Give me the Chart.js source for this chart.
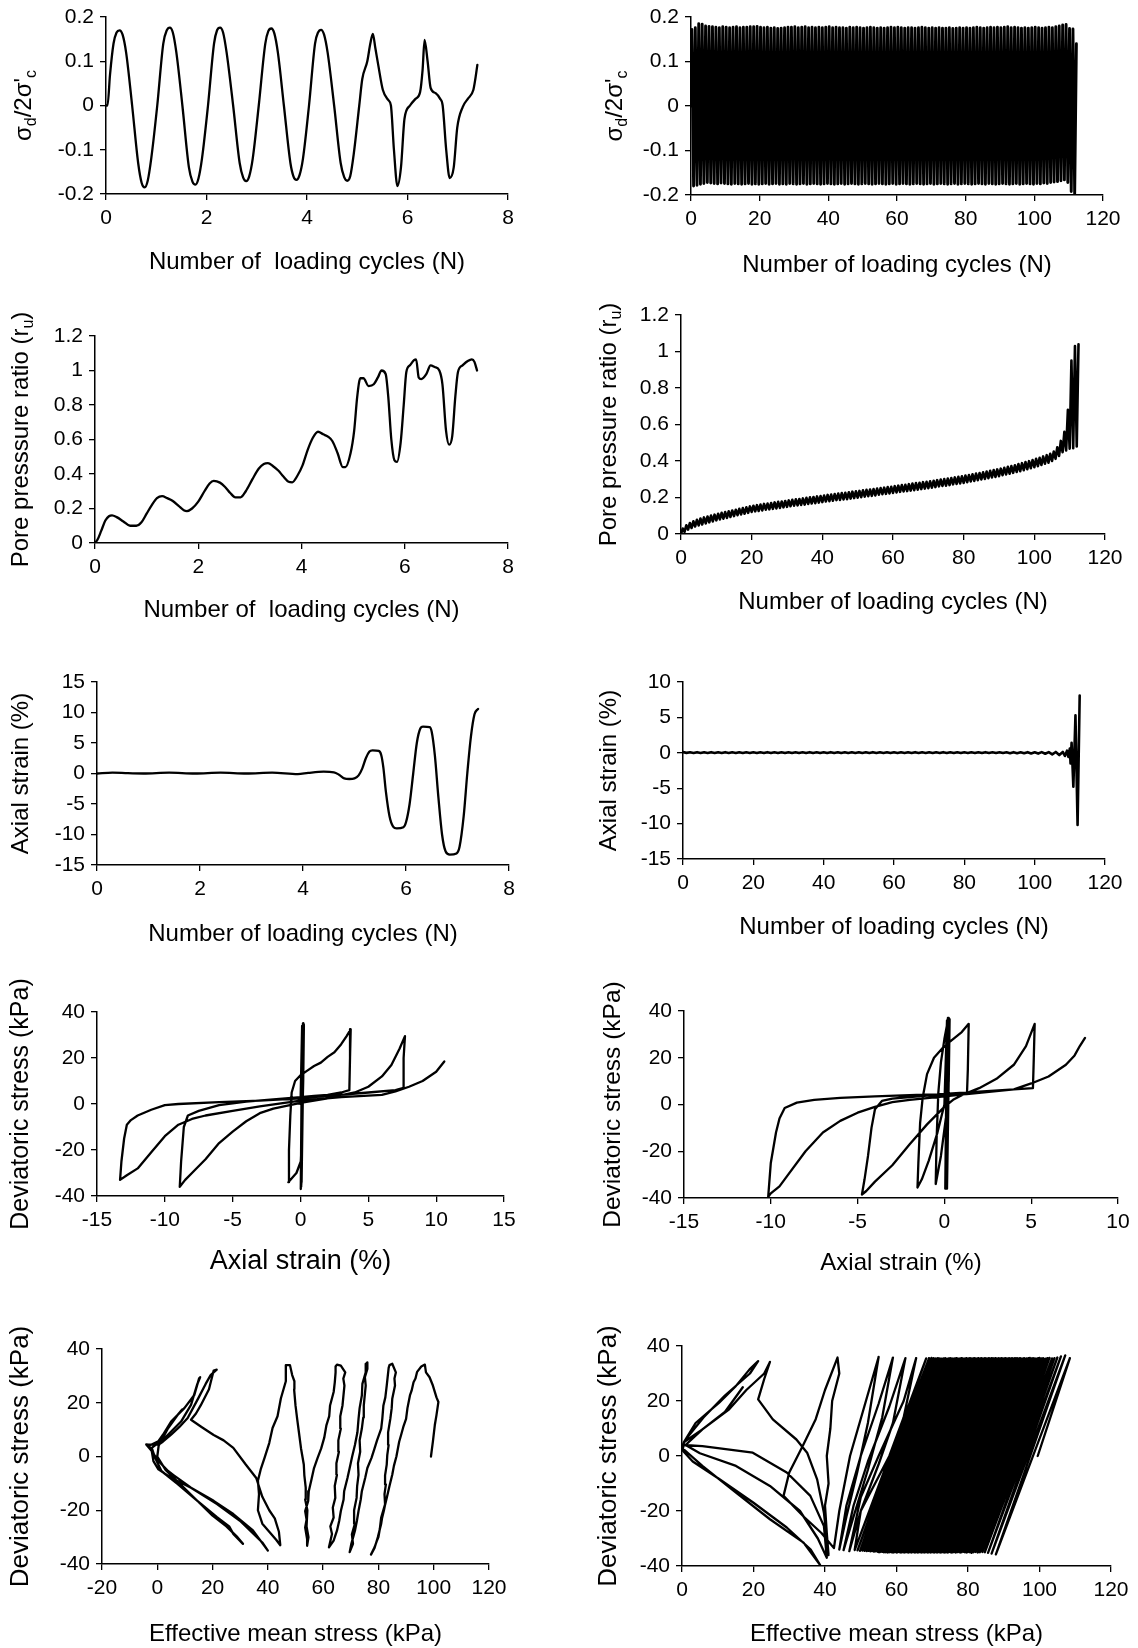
<!DOCTYPE html>
<html lang="en">
<head>
<meta charset="utf-8">
<title>Ensaios triaxiais cíclicos</title>
<script src="https://cdn.jsdelivr.net/npm/chart.js@4.4.1/dist/chart.umd.min.js"></script>
<style>
  html, body { margin: 0; padding: 0; background: #fff; }
  body { position: relative; width: 1138px; height: 1648px; overflow: hidden; }
  canvas { position: absolute; }
</style>
</head>
<body>
<script>
/* ============================================================
   Dois ensaios triaxiais cíclicos lado a lado:
   coluna esquerda = amostra que liquefaz em ~7 ciclos,
   coluna direita  = amostra que resiste ~112 ciclos.
   ============================================================ */

/* ---------- Coluna esquerda: pares [N, valor] ---------- */
const SIGMA_A = [
  [0,0],[0.03,0],[0.08,0.07],[0.15,0.14],[0.21,0.165],[0.27,0.17],[0.33,0.16],[0.4,0.12],[0.52,0],[0.64,-0.13],
  [0.71,-0.175],[0.77,-0.185],[0.83,-0.17],[0.9,-0.12],[1.02,0],[1.14,0.14],[1.21,0.17],[1.27,0.176],[1.33,0.165],[1.4,0.12],
  [1.52,0],[1.65,-0.14],[1.72,-0.172],[1.78,-0.179],[1.84,-0.165],[1.91,-0.12],[2.03,0],[2.15,0.14],[2.21,0.17],[2.27,0.176],
  [2.33,0.165],[2.4,0.12],[2.53,0],[2.66,-0.13],[2.73,-0.163],[2.79,-0.171],[2.85,-0.16],[2.92,-0.12],[3.04,0],[3.17,0.14],
  [3.23,0.168],[3.29,0.174],[3.35,0.163],[3.42,0.12],[3.54,0],[3.67,-0.13],[3.73,-0.16],[3.79,-0.168],[3.85,-0.158],[3.92,-0.12],
  [4.04,0],[4.16,0.14],[4.22,0.165],[4.28,0.171],[4.34,0.16],[4.41,0.12],[4.54,0],[4.67,-0.13],[4.74,-0.162],[4.8,-0.17],
  [4.86,-0.16],[4.93,-0.11],[5.04,0],[5.1,0.06],[5.2,0.1],[5.26,0.14],[5.31,0.162],[5.36,0.13],[5.42,0.09],[5.51,0.035],
  [5.62,0.012],[5.67,0],[5.73,-0.1],[5.8,-0.182],[5.87,-0.14],[5.94,-0.03],[6.05,0],[6.16,0.015],[6.25,0.03],[6.3,0.08],
  [6.34,0.148],[6.4,0.1],[6.46,0.04],[6.56,0.028],[6.65,0.015],[6.7,0],[6.77,-0.1],[6.84,-0.164],[6.92,-0.14],[6.99,-0.05],
  [7.1,-0.003],[7.2,0.015],[7.31,0.035],[7.35,0.06],[7.39,0.092]
];

const RU_A = [
  [0,0],[0.05,0.02],[0.12,0.07],[0.2,0.13],[0.27,0.155],[0.33,0.16],[0.42,0.15],[0.55,0.125],[0.68,0.1],[0.8,0.1],
  [0.9,0.12],[1.0,0.17],[1.1,0.22],[1.2,0.26],[1.3,0.272],[1.4,0.26],[1.5,0.245],[1.62,0.215],[1.72,0.19],[1.78,0.185],
  [1.88,0.2],[2.0,0.24],[2.12,0.3],[2.22,0.345],[2.3,0.36],[2.42,0.35],[2.52,0.325],[2.62,0.29],[2.72,0.265],[2.82,0.265],
  [2.92,0.3],[3.05,0.37],[3.17,0.43],[3.27,0.458],[3.35,0.463],[3.45,0.445],[3.55,0.42],[3.65,0.385],[3.75,0.355],[3.82,0.352],
  [3.92,0.39],[4.02,0.45],[4.12,0.54],[4.22,0.61],[4.32,0.645],[4.42,0.63],[4.52,0.615],[4.6,0.59],[4.7,0.52],[4.8,0.44],
  [4.85,0.44],[4.95,0.52],[5.02,0.65],[5.08,0.85],[5.14,0.955],[5.2,0.955],[5.3,0.91],[5.4,0.92],[5.48,0.96],[5.55,1.0],
  [5.63,0.98],[5.68,0.85],[5.74,0.6],[5.8,0.48],[5.85,0.47],[5.92,0.58],[5.98,0.8],[6.03,0.99],[6.1,1.03],[6.18,1.06],
  [6.22,1.065],[6.27,0.96],[6.32,0.95],[6.42,0.98],[6.5,1.03],[6.58,1.02],[6.67,1.0],[6.73,0.92],[6.8,0.65],[6.86,0.57],
  [6.92,0.62],[6.98,0.85],[7.03,0.99],[7.12,1.03],[7.22,1.055],[7.3,1.065],[7.35,1.05],[7.4,1.0]
];

const EPS_A = [
  [0,0],[0.3,0.15],[0.6,0.05],[0.9,0],[1.4,0.15],[1.9,0],[2.4,0.15],[2.9,0],[3.4,0.15],[3.9,-0.1],
  [4.1,0.1],[4.4,0.3],[4.6,0.2],[4.7,-0.2],[4.8,-0.8],[4.9,-0.9],[5.0,-0.8],[5.08,-0.3],[5.15,0.8],[5.22,2.5],
  [5.29,3.6],[5.35,3.8],[5.47,3.7],[5.52,3.0],[5.56,1.0],[5.61,-3],[5.68,-7],[5.75,-8.7],[5.82,-9.0],[5.95,-8.8],
  [6.0,-8.0],[6.07,-5],[6.14,0],[6.21,5],[6.28,7.4],[6.33,7.7],[6.46,7.6],[6.5,6.8],[6.56,3],[6.63,-4],
  [6.7,-10],[6.77,-12.8],[6.85,-13.3],[6.98,-13.1],[7.04,-12.0],[7.12,-7],[7.19,0],[7.26,6],[7.33,9.7],[7.4,10.6]
];

// pares [deformação axial %, tensão desviadora kPa]
const Q_EPS_A = [
  [0,0],[0.12,34],[0.02,-37],[0.18,35],[0.05,-36],[0.2,35],[0.06,-35],[0.22,35],[0.08,-34],[0.25,34.5],
  [0.2,10],[0.1,-15],[0.02,-25],[-0.3,-30],[-0.9,-34],
  [-0.85,-20],[-0.75,-5],[-0.65,5],[-0.4,10],[0,12.5],[0.5,14.5],[1,16.5],[1.5,18],[2,20.5],[2.5,22.5],[3,26],[3.4,29.5],[3.7,32.5],
  [3.65,20],[3.6,6],[3,5],[2,4],[1,3.5],[0,3],[-2,2],[-4,1],[-6,-0.5],[-7.5,-3],[-8.3,-5],[-8.6,-10],[-8.8,-25],[-8.9,-36],
  [-8.5,-33],[-8,-30],[-7,-24],[-6,-17],[-5,-12],[-4,-7.5],[-3,-4],[-2,-2],[0,0.5],[2,2.5],[4,5],[5,7.5],[6,12],[6.7,17],[7.3,24],[7.7,29.5],
  [7.6,20],[7.6,7],[7,6],[5,5],[2,3.5],[0,2.5],[-3,1.5],[-6,0.8],[-9,0],[-10,-0.5],[-11,-2.5],[-12,-5],[-12.5,-7],[-12.8,-9],[-13,-15],[-13.2,-25],[-13.3,-33],
  [-12.8,-31],[-12,-28],[-11,-21],[-10,-14],[-9,-9],[-8,-6.5],[-7,-5],[-5,-3],[-3,-1],[0,1.5],[3,3],[6,4],[7,5.5],[8,7.5],[9,10],[10,14],[10.6,18.5]
];

// pares [p' kPa, q kPa]; trechos quase verticais com as ondulações da figura
const Q_P_A = [
  [99,0],[99.7,5.5],[100.4,11.7],[101,15.4],[101.7,20.3],[101,22],[99.7,26.4],[98.5,29.5],[97.2,31.3],[96.8,34.2],[95.5,33.5],
  [94,31.5],[93.4,29],[92.7,27.6],[92,24.5],[91.4,22.7],[90.5,18],[90,14],[89,11],[88.2,8],[87.5,5.5],[86.5,0],[85.6,-3.5],[85,-6.8],[84,-11],[83,-15.4],[82.4,-18],[82,-20],[81.3,-23],[81,-25],[79.8,-30],[79.2,-32],[78.6,-34],[77.3,-36.5],
  [78.6,-33.8],[79.4,-31.5],[80,-30],[80.5,-27],[81,-22.7],[82.4,-17.8],[82.2,-14],[82.7,-10.4],[82.4,-7],[83,-3],[83.2,0.5],[83.7,4.3],[83.5,9],[84.3,14],[84.8,18],[85,21.5],[86,26.4],[85.8,29],[86.3,31.3],[85,34.5],[84,34],
  [83.7,33],[83,26.4],[82.5,22],[81.8,19],[81.4,14],[81,10.4],[79.5,6],[78.6,3],[77.5,-0.5],[76,-4.3],[75.2,-8],[74,-12.9],[73.6,-16],[72.8,-20.3],[72.2,-24],[71.5,-27.6],[70.2,-32.5],[69.6,-35.6],
  [70.8,-32.5],[70.4,-29],[71.5,-25],[71.2,-20],[72.1,-15.4],[72.3,-11],[72.8,-6.8],[72.6,-2.5],[73.4,1.8],[73.2,6],[74,10.4],[74.5,14.5],[74.7,19],[75.4,26.4],[75.1,29.5],[76,32.6],[76,35],[75.5,34.5],
  [75.4,31.3],[74.2,27],[74,22.7],[73.2,18],[72.8,14],[72.4,9],[71.5,4.3],[70.5,0],[69.6,-4.3],[68.8,-8],[67.6,-12.9],[67.4,-16],[66.4,-20.3],[65.8,-24],[65,-27.6],[63.8,-31.3],[62.1,-33.8],
  [63.2,-28.8],[62.6,-26],[63.8,-22.7],[63.5,-19],[64.4,-15.4],[64.2,-11],[65,-6.8],[64.8,-2.5],[65.7,1.8],[65.5,6],[66.4,10.4],[66.2,15],[67,19],[67.7,26.4],[67.3,29],[68,31.3],[66.4,33.8],[65,34.2],[64.5,33.5],
  [64.5,31.3],[64.2,27.5],[63.8,24],[62.5,19],[62.2,15],[61.2,11.7],[60.4,7],[59.3,3],[58,-0.5],[56.7,-4.3],[55.8,-8.5],[54.8,-12.9],[54.6,-16.5],[53.5,-20.3],[54,-23.5],[53.5,-26.4],[54.2,-30.7],[54.2,-33.2],
  [54.7,-30],[54,-26],[54.3,-20],[53.5,-16],[53.7,-11.6],[53.2,-7],[53,-3],[52,3],[51.2,9.3],[50.6,14],[50,19],[49.5,25],[49.6,28],[48.8,30.3],[48,34],[46.5,34],
  [46.5,28],[44.7,21.6],[43.5,15],[41.7,10.6],[40.5,5],[38.8,-0.5],[37.5,-4.5],[36.4,-9],[36.8,-14],[36.4,-20],[38,-25],[40.5,-28],[43,-31],[44.5,-33],
  [44,-28],[42.5,-23],[40.5,-20],[38,-15],[35.8,-8],[32,-3],[27.5,3.2],[24,6],[20.4,8],[16,11],[12.2,13.7],[14,16],[15.7,19],[18.7,25],[20.4,32],[21.5,32.3],
  [19.3,30.3],[17.5,27],[15,22],[11,14.3],[8,11],[5,8.1],[2,5.5],[0.4,4.4],[-3.2,4.4],[-4,4.5],
  [-2,2],[-1.4,-1.7],[0.4,-4.8],[5,-7.9],[12.2,-11.6],[20.4,-16.5],[27.5,-21.4],[34.6,-27.5],[38.2,-32.5],[40,-35],
  [38,-32],[34,-28],[29.9,-23.9],[21.6,-17.7],[12.2,-11.6],[6,-7],[3.9,-5.4],[0.4,-1.7],[-2,2],[-3,4],
  [0.4,5.7],[2,8],[5,13],[9.8,18],[13.4,22.9],[15.1,29],[15.5,29.5],
  [14.5,27],[12.2,19.2],[8.6,13],[2.7,6.9],[-2,3.2],[-0.8,-0.5],[1.5,-5.4],[7.4,-10.3],[14.5,-16.5],[21.6,-22.6],[26,-26],[27.5,-28.8],[31,-32.5],
  [29,-30],[25,-26],[20,-22],[14,-16],[8,-10],[3,-5],[0,0],[0.5,4],[3.9,10.5],[7.4,15.5],[9,17.5]
];

/* ---------- Coluna direita: ~112 ciclos ---------- */
// σd/2σ'c: um pico e um vale por ciclo
const PICO_B = [
  .172,.176,.185,.184,.180,.179,.178,.177,.176,.178,
  .177,.176,.177,.178,.176,.177,.177,.178,.178,.179,
  .177,.176,.177,.175,.176,.174,.175,.176,.177,.177,
  .178,.176,.177,.178,.176,.177,.176,.177,.176,.177,
  .178,.176,.177,.176,.176,.175,.177,.176,.177,.176,
  .175,.176,.177,.176,.175,.176,.175,.176,.177,.176,
  .177,.176,.175,.176,.176,.175,.176,.177,.176,.175,
  .176,.175,.176,.175,.175,.176,.174,.175,.176,.175,
  .176,.175,.176,.177,.176,.175,.176,.177,.176,.177,
  .176,.177,.178,.176,.177,.176,.175,.176,.175,.176,
  .177,.176,.175,.176,.177,.176,.178,.180,.182,.183,
  .174,.173,.140
];
const VALE_B = [
  -.180,-.178,-.176,-.174,-.172,-.173,-.174,-.175,-.173,-.174,
  -.175,-.176,-.174,-.175,-.176,-.175,-.174,-.176,-.175,-.176,
  -.175,-.174,-.176,-.175,-.174,-.176,-.175,-.176,-.174,-.175,
  -.176,-.175,-.174,-.176,-.175,-.174,-.175,-.176,-.175,-.174,
  -.175,-.176,-.175,-.174,-.176,-.175,-.174,-.175,-.176,-.175,
  -.174,-.175,-.176,-.175,-.174,-.175,-.176,-.175,-.174,-.176,
  -.175,-.174,-.175,-.176,-.175,-.174,-.175,-.176,-.175,-.174,
  -.176,-.175,-.174,-.175,-.176,-.175,-.174,-.176,-.175,-.174,
  -.175,-.176,-.175,-.174,-.175,-.176,-.174,-.175,-.176,-.175,
  -.174,-.175,-.176,-.175,-.174,-.176,-.175,-.174,-.175,-.176,
  -.174,-.175,-.173,-.174,-.172,-.171,-.170,-.168,-.166,-.172,
  -.192,-.197
];

// r_u: mínimo (em N inteiro) e máximo (em N + 0,5) de cada ciclo
const RU_VALE_B = [
  0,.012,.024,.033,.041,.047,.052,.058,.064,.069,
  .075,.080,.084,.088,.093,.098,.103,.107,.111,.116,
  .121,.124,.126,.129,.133,.135,.138,.140,.143,.146,
  .149,.152,.155,.157,.159,.161,.165,.167,.169,.172,
  .175,.178,.180,.182,.186,.187,.189,.191,.194,.197,
  .199,.202,.205,.207,.209,.211,.215,.218,.220,.222,
  .225,.228,.231,.233,.235,.238,.240,.243,.246,.249,
  .251,.254,.257,.261,.263,.265,.268,.272,.274,.277,
  .280,.284,.288,.291,.295,.299,.302,.306,.310,.313,
  .317,.322,.326,.330,.335,.340,.344,.350,.355,.361,
  .366,.372,.378,.385,.391,.400,.412,.428,.448,.458,
  .468,.470,.480
];
const RU_PICO_B = [
  .030,.048,.060,.070,.078,.085,.091,.096,.101,.106,
  .111,.116,.120,.124,.129,.133,.138,.142,.146,.151,
  .155,.158,.161,.165,.167,.170,.173,.176,.178,.181,
  .184,.187,.190,.192,.195,.198,.201,.203,.206,.208,
  .211,.214,.216,.219,.222,.224,.226,.229,.232,.234,
  .236,.239,.242,.244,.246,.249,.252,.254,.257,.259,
  .262,.265,.268,.270,.273,.276,.279,.281,.284,.286,
  .289,.292,.295,.298,.301,.304,.307,.310,.313,.316,
  .320,.323,.327,.331,.334,.338,.342,.346,.350,.354,
  .358,.363,.368,.372,.377,.383,.388,.394,.399,.405,
  .412,.418,.425,.432,.440,.452,.475,.510,.560,.680,
  .950,1.030,1.040
];

// deformação axial: trecho quase plano (um valor por ciclo) e ruptura final
const EPS_PLANO_B = [
  .10,-.01,.08,-.03,.09,-.02,.08,-.03,.09,-.03,
  .08,-.03,.09,-.02,.08,-.03,.08,-.03,.08,-.02,
  .08,-.03,.08,-.03,.09,-.02,.08,-.03,.08,-.03,
  .08,-.02,.08,-.03,.08,-.03,.09,-.02,.08,-.03,
  .08,-.03,.09,-.02,.08,-.03,.08,-.03,.08,-.03,
  .08,-.02,.08,-.03,.09,-.03,.08,-.02,.08,-.03,
  .08,-.03,.08,-.02,.08,-.03,.09,-.03,.08,-.02,
  .08,-.03,.08,-.03,.09,-.02,.08,-.03,.08,-.03,
  .08,-.02,.08,-.03,.08,-.03,.09,-.02,.08,-.03,
  .08,-.03,.08,-.05,.09,-.05,.08,-.07,.09,-.09,
  .08,-.11,.09,-.14,.10,-.22,.12,-.32,.12
];
const EPS_FINAL_B = [
  [108.6,-0.45],[109.2,0.3],[109.6,-0.6],[110.0,0.6],[110.2,-1.5],[110.5,1.4],[111.0,-4.8],[111.6,5.3],[112.2,-10.2],[112.8,8.1]
];

const Q_EPS_B = [
  [0,0],[0.15,36],[0.05,-36],[0.2,37],[0.08,-35],[0.22,36],[0.1,-36],[0.25,37],[0.12,-35],[0.28,36],[0.15,-36],[0.3,36.5],
  [0.25,10],[0.1,-5],[-0.2,-22],[-0.5,-34],
  [-0.45,-15],[-0.35,5],[-0.2,18],[0,28],[0.2,36],
  [0.15,15],[0,0],[-0.4,-12],[-0.9,-24],[-1.3,-32],[-1.55,-35.5],
  [-1.5,-25],[-1.4,-8],[-1.25,3],[-1.0,13],[-0.6,20],[0,25],[0.5,28],[1.0,31],[1.4,34.5],
  [1.35,15],[1.3,4.5],[0.5,4.2],[-1,3.8],[-2,3.2],[-3,2.5],[-3.6,1.5],[-4,-2],[-4.2,-10],[-4.4,-22],[-4.6,-32],[-4.75,-38.5],
  [-4.5,-37],[-4,-33],[-3,-26],[-2,-17],[-1,-8.5],[0,-1],[0.5,2],[1,4],[2,7],[3,11],[4,17],[4.7,25],[5.2,34.5],
  [5.15,20],[5.1,7],[4,6.5],[2,5.5],[0,4.5],[-2,4],[-4,3.5],[-6,2.8],[-7.5,2],[-8.5,0.8],[-9.2,-1.5],[-9.5,-6],[-9.7,-12],[-10,-25],[-10.15,-39.5],
  [-10,-38],[-9.5,-35],[-9,-30],[-8,-20],[-7,-12],[-6,-7],[-5,-3.5],[-4,-1],[-3,1],[-2,2],[0,3.5],[2,5],[4,6.5],[5,9],[6,12],[7,17],[7.5,21],[7.8,25],[8.1,28.5]
];

// trajetória p'-q: p' e q em cada pico e vale dos ciclos 0..104
const P_TOPO_B = [
  108.5,107.2,106.0,105.0,104.2,103.5,102.8,102.2,101.6,101.0,
  100.5,100.0,99.6,99.1,98.7,98.2,97.8,97.3,96.9,96.4,
  96.0,95.7,95.4,95.1,94.8,94.5,94.2,93.9,93.7,93.4,
  93.1,92.8,92.5,92.3,92.0,91.7,91.5,91.2,90.9,90.7,
  90.4,90.1,89.9,89.6,89.4,89.1,88.9,88.6,88.4,88.1,
  87.9,87.6,87.4,87.1,86.9,86.6,86.3,86.1,85.8,85.6,
  85.3,85.0,84.7,84.5,84.2,83.9,83.7,83.4,83.1,82.9,
  82.6,82.3,82.0,81.7,81.4,81.1,80.8,80.5,80.2,79.9,
  79.6,79.2,78.9,78.5,78.2,77.8,77.4,77.0,76.7,76.3,
  75.9,75.5,75.0,74.6,74.1,73.6,73.1,72.6,72.1,71.6,
  71.0,70.4,69.8,69.1,68.3
];
const Q_TOPO_B = [
  35.6,36.6,36.2,35.8,35.6,35.5,35.7,35.6,35.4,35.6,
  35.5,35.7,35.6,35.4,35.5,35.6,35.5,35.7,35.6,35.5,
  35.4,35.6,35.5,35.3,35.5,35.6,35.4,35.5,35.6,35.5,
  35.6,35.4,35.5,35.6,35.5,35.4,35.6,35.5,35.4,35.5,
  35.6,35.5,35.4,35.5,35.6,35.5,35.4,35.6,35.5,35.4,
  35.5,35.6,35.4,35.5,35.5,35.6,35.4,35.5,35.6,35.5,
  35.4,35.5,35.6,35.5,35.4,35.5,35.6,35.5,35.4,35.6,
  35.5,35.4,35.5,35.6,35.5,35.4,35.5,35.6,35.5,35.4,
  35.6,35.5,35.4,35.5,35.6,35.5,35.4,35.5,35.6,35.5,
  35.4,35.5,35.6,35.5,35.4,35.6,35.5,35.4,35.5,35.6,
  35.5,35.6,35.7,35.6,35.5
];
const P_BASE_B = [
  87.8,86.6,85.6,84.7,84.0,83.3,82.7,82.1,81.5,81.0,
  80.5,80.0,79.6,79.1,78.7,78.2,77.8,77.4,76.9,76.5,
  76.0,75.7,75.4,75.1,74.8,74.5,74.2,73.9,73.7,73.4,
  73.1,72.8,72.6,72.3,72.0,71.8,71.5,71.3,71.0,70.7,
  70.5,70.2,70.0,69.7,69.5,69.2,69.0,68.7,68.5,68.2,
  68.0,67.7,67.5,67.2,67.0,66.7,66.4,66.2,65.9,65.7,
  65.4,65.1,64.9,64.6,64.3,64.1,63.8,63.5,63.3,63.0,
  62.7,62.4,62.1,61.8,61.5,61.2,60.9,60.6,60.3,60.0,
  59.7,59.3,59.0,58.6,58.2,57.9,57.5,57.1,56.8,56.4,
  56.0,55.6,55.1,54.7,54.2,53.7,53.2,52.7,52.2,51.7,
  51.1,50.5,49.8,49.1,48.3
];
const Q_BASE_B = [
  -35.8,-35.5,-35.2,-35.0,-34.9,-35.0,-35.1,-34.9,-35.0,-35.2,
  -35.0,-34.9,-35.1,-35.0,-34.8,-35.0,-35.1,-34.9,-35.0,-35.1,
  -34.9,-35.0,-35.1,-35.0,-34.8,-35.0,-35.1,-34.9,-35.0,-35.1,
  -35.0,-34.9,-35.0,-35.1,-35.0,-34.8,-35.0,-35.1,-34.9,-35.0,
  -35.1,-35.0,-34.9,-35.0,-35.1,-34.9,-35.0,-35.1,-35.0,-34.9,
  -35.0,-35.1,-34.9,-35.0,-35.1,-35.0,-34.8,-35.0,-35.1,-34.9,
  -35.0,-35.1,-35.0,-34.9,-35.0,-35.1,-34.9,-35.0,-35.1,-35.0,
  -34.9,-35.0,-35.1,-34.9,-35.0,-35.1,-35.0,-34.8,-35.0,-35.1,
  -34.9,-35.0,-35.1,-35.0,-34.9,-35.0,-35.1,-34.9,-35.0,-35.0,
  -34.8,-34.9,-35.0,-34.8,-34.7,-34.8,-34.6,-34.7,-34.5,-34.6,
  -34.5,-34.4,-34.5,-34.3,-34.2
];
// últimos ciclos (liquefação), pares [p', q]
const Q_P_FINAL_B = [
  [50,-20],[58,0],[62,14],[65.5,35.6],[62,20],[55,0],[50,-15],[46.8,-34.6],
  [50,-20],[55,-3],[59,12],[62.5,35.6],[58,18],[52,-2],[48,-18],[45.2,-34.2],
  [48,-22],[52,-5],[56,14],[59,35.8],[55,19],[50,0],[46,-18],[44,-34],
  [46,-22],[49,-6],[52,12],[55,36],[51,18],[47,0],[44,-20],[42.5,-33.5],
  [39,-28],[34,-22],[28.4,-14.5],[30,-6],[33.8,3.7],[37.4,13.4],[40,24],[43.5,35.8],
  [44,30],[42,20],[41.5,10],[40.5,0],[41,-10],[40,-18],[40.5,-28],[41,-36],
  [39.7,-20.6],[37.8,-8.5],[35,1.2],[32,6],[25.4,13.3],[21.3,20.6],[23,28],[24.6,34.2],
  [23,30],[18,24],[13.2,17],[5.7,9.7],[0.5,5],[0,3],[5.7,-3.6],[15.1,-13.3],[24.6,-23],[34,-31.5],[38.6,-39.6],
  [36,-34],[29.3,-26],[20,-17],[10,-8],[3,-2],[0.2,2],[0.5,5],[3.8,12],[10.4,19.4],[15.1,25.5],[18.9,31.5],[21.3,34.5],
  [19,30],[12,22],[6,14],[1,6],[0.3,4],[5.7,3.6],[19.8,1.2],[29.3,-6],[35.9,-14.5],[39.7,-25.5],[40.5,-37],
  [38,-30],[33,-20],[24.6,-10.9],[15.1,-3.6],[5,1],[1,4],[5.7,9.7],[12,16],[17,25]
];

/* ---------- Montagem das séries ---------- */
const pares = lista => lista.map(([x, y]) => ({ x, y }));

function serieSigmaB() {
  const pts = [{ x: 0, y: 0 }];
  PICO_B.forEach((v, i) => {
    pts.push({ x: i + 0.25, y: v });
    if (i < VALE_B.length) pts.push({ x: i + 0.75, y: VALE_B[i] });
  });
  return pts;
}
function serieRuB() {
  const pts = [];
  RU_VALE_B.forEach((v, i) => {
    pts.push({ x: i, y: v });
    pts.push({ x: i + 0.5, y: RU_PICO_B[i] });
  });
  return pts;
}
function serieEpsB() {
  return EPS_PLANO_B.map((v, i) => ({ x: i, y: v })).concat(pares(EPS_FINAL_B));
}
function serieQPB() {
  const pts = [{ x: 99.5, y: 0 }];
  P_TOPO_B.forEach((p, i) => {
    pts.push({ x: p, y: Q_TOPO_B[i] });
    pts.push({ x: P_BASE_B[i], y: Q_BASE_B[i] });
  });
  return pts.concat(pares(Q_P_FINAL_B));
}

/* ---------- Estilo ---------- */
const FONTE = "'Liberation Sans', Arial, Helvetica, sans-serif";
const TAM_TICK = 21;

// títulos dos eixos: o do eixo y aceita trechos subscritos [texto, sub]
const rotulos = {
  id: 'rotulos',
  afterDraw(chart, args, o) {
    const { ctx, chartArea: a } = chart;
    ctx.save();
    ctx.fillStyle = '#000';
    ctx.textBaseline = 'middle';
    ctx.textAlign = 'center';
    ctx.font = `${o.tamX}px ${FONTE}`;
    ctx.fillText(o.x, (a.left + a.right) / 2, o.xTopo);

    ctx.translate(o.yEsq, (a.top + a.bottom) / 2);
    ctx.rotate(-Math.PI / 2);
    ctx.textAlign = 'left';
    const fonte = sub => `${sub ? Math.round(o.tamY * 0.66) : o.tamY}px ${FONTE}`;
    const larguras = o.y.map(([t, sub]) => { ctx.font = fonte(sub); return ctx.measureText(t).width; });
    let x = -larguras.reduce((s, w) => s + w, 0) / 2;
    o.y.forEach(([t, sub], i) => {
      ctx.font = fonte(sub);
      ctx.fillText(t, x, sub ? o.tamY * 0.32 : 0);
      x += larguras[i];
    });
    ctx.restore();
  }
};

function eixo(min, max, passo, fixar) {
  return {
    type: 'linear', min, max,
    ticks: {
      stepSize: passo, autoSkip: false, maxRotation: 0, padding: 6, color: '#000',
      font: { family: FONTE, size: TAM_TICK },
      callback: v => String(+v.toFixed(2))
    },
    grid: { drawOnChartArea: false, drawTicks: true, tickLength: 6, color: '#000', lineWidth: 1.3 },
    border: { display: true, color: '#000', width: 1.5 },
    afterFit: s => {
      fixar(s);
      s.paddingLeft = s.paddingRight = s.paddingTop = s.paddingBottom = 0;
    }
  };
}

const TY_SIGMA = [['σ'], ['d', 1], ["/2σ'"], ['c', 1]];
const TY_DEV = [['Deviatoric stress (kPa)']];
const TY_EPS = [['Axial strain (%)']];

/* área de plotagem [esq, topo, dir, base] em px da página */
const PAINEIS = [
  { col: 0, area: [106, 17, 508, 194], x: [0, 8, 2], y: [-0.2, 0.2, 0.1], tx: 'Number of  loading cycles (N)', txTopo: 262, ty: TY_SIGMA, tyEsq: 24,
    dados: pares(SIGMA_A), suave: true },
  { col: 1, area: [691, 17, 1103, 195], x: [0, 120, 20], y: [-0.2, 0.2, 0.1], tx: 'Number of loading cycles (N)', txTopo: 265, ty: TY_SIGMA, tyEsq: 615,
    dados: serieSigmaB(), largura: 2.9 },
  { col: 0, area: [95, 336, 508, 543], x: [0, 8, 2], y: [0, 1.2, 0.2], tx: 'Number of  loading cycles (N)', txTopo: 610,
    ty: [['Pore presssure ratio (r'], ['u', 1], [')']], tyEsq: 21, dados: pares(RU_A), suave: true },
  { col: 1, area: [681, 315, 1105, 534], x: [0, 120, 20], y: [0, 1.2, 0.2], tx: 'Number of loading cycles (N)', txTopo: 602,
    ty: [['Pore pressure ratio (r'], ['u', 1], [')']], tyEsq: 609, dados: serieRuB(), largura: 2.6 },
  { col: 0, area: [97, 682, 509, 865], x: [0, 8, 2], y: [-15, 15, 5], tx: 'Number of loading cycles (N)', txTopo: 934, ty: TY_EPS, tyEsq: 21,
    dados: pares(EPS_A), suave: true },
  { col: 1, area: [683, 682, 1105, 859], x: [0, 120, 20], y: [-15, 10, 5], tx: 'Number of loading cycles (N)', txTopo: 927, ty: TY_EPS, tyEsq: 609,
    dados: serieEpsB(), largura: 2.6 },
  { col: 0, area: [97, 1012, 504, 1196], x: [-15, 15, 5], y: [-40, 40, 20], tx: 'Axial strain (%)', txTopo: 1262, ty: TY_DEV, tyEsq: 21,
    dados: pares(Q_EPS_A), tamX: 27, tamY: 25 },
  { col: 1, area: [684, 1011, 1118, 1198], x: [-15, 10, 5], y: [-40, 40, 20], tx: 'Axial strain (%)', txTopo: 1263, ty: TY_DEV, tyEsq: 613,
    dados: pares(Q_EPS_B), tamY: 24.5 },
  { col: 0, area: [102, 1349, 489, 1564], x: [-20, 120, 20], y: [-40, 40, 20], tx: 'Effective mean stress (kPa)', txTopo: 1634, ty: TY_DEV, tyEsq: 21,
    dados: pares(Q_P_A), tamY: 26 },
  { col: 1, area: [682, 1346, 1111, 1566], x: [0, 120, 20], y: [-40, 40, 20], tx: 'Effective mean stress (kPa)', txTopo: 1634, ty: TY_DEV, tyEsq: 609,
    dados: serieQPB(), largura: 2.3, tamY: 26 }
];

const LARG_COL = 569;

PAINEIS.forEach(p => {
  const [l, t, r, b] = p.area;
  const esq = p.col * LARG_COL;
  // canvas transparente e folgado acima, para não cortar o título vertical
  const topo = Math.max(0, t - 50);
  const alt = p.txTopo + 24 - topo;
  const base = topo + alt;

  const cv = document.createElement('canvas');
  cv.width = LARG_COL; cv.height = alt;
  cv.style.left = esq + 'px'; cv.style.top = topo + 'px';
  cv.style.width = LARG_COL + 'px'; cv.style.height = alt + 'px';
  document.body.appendChild(cv);

  new Chart(cv, {
    type: 'line',
    data: {
      datasets: [{
        data: p.dados,
        borderColor: '#000',
        borderWidth: p.largura || 2.3,
        pointRadius: 0,
        fill: false,
        tension: 0,
        cubicInterpolationMode: p.suave ? 'monotone' : 'default',
        borderJoinStyle: 'round',
        borderCapStyle: 'round'
      }]
    },
    options: {
      responsive: false,
      animation: false,
      devicePixelRatio: 1,
      parsing: false,
      normalized: true,
      layout: { padding: { left: 0, top: t - topo, right: esq + LARG_COL - r, bottom: 0 } },
      scales: {
        x: eixo(p.x[0], p.x[1], p.x[2], s => { s.height = base - b; }),
        y: eixo(p.y[0], p.y[1], p.y[2], s => { s.width = l - esq; })
      },
      plugins: {
        legend: { display: false },
        tooltip: { enabled: false },
        rotulos: { x: p.tx, xTopo: p.txTopo - topo, tamX: p.tamX || 24, y: p.ty, yEsq: p.tyEsq - esq, tamY: p.tamY || 24 }
      }
    },
    plugins: [rotulos]
  });
});
</script>
</body>
</html>
